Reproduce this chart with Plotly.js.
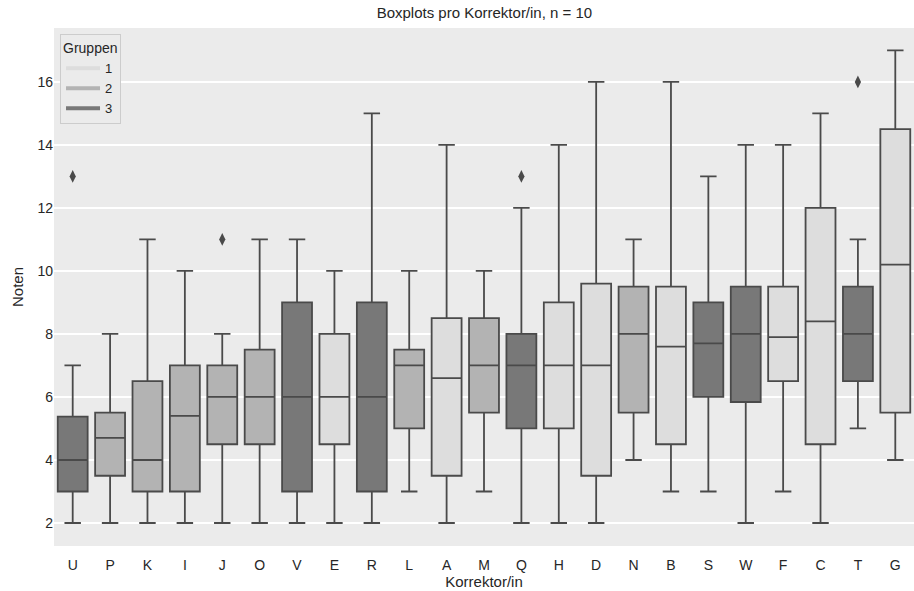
<!DOCTYPE html>
<html>
<head>
<meta charset="utf-8">
<script src="https://cdn.plot.ly/plotly-3.0.1.min.js"></script>
<style>html,body{margin:0;padding:0;background:#fff;}#chart{width:914px;height:591px;}</style>
</head>
<body>
<div id="chart"></div>
<script>
// Data
const categories = ["U","P","K","I","J","O","V","E","R","L","A","M","Q","H","D","N","B","S","W","F","C","T","G"];
const groups     = [3,2,2,2,2,2,3,1,3,2,1,2,3,1,1,2,1,3,3,1,1,3,1];
const lowerWhisker = [2,2,2,2,2,2,2,2,2,3,2,3,2,2,2,4,3,3,2,3,2,5,4];
const q1Values     = [3,3.5,3,3,4.5,4.5,3,4.5,3,5,3.5,5.5,5,5,3.5,5.5,4.5,6,5.84,6.5,4.5,6.5,5.5];
const medians      = [4,4.7,4,5.4,6,6,6,6,6,7,6.6,7,7,7,7,8,7.6,7.7,8,7.9,8.4,8,10.2];
const q3Values     = [5.375,5.5,6.5,7,7,7.5,9,8,9,7.5,8.5,8.5,8,9,9.6,9.5,9.5,9,9.5,9.5,12,9.5,14.5];
const upperWhisker = [7,8,11,10,8,11,11,10,15,10,14,10,12,14,16,11,16,13,14,14,15,11,17];
const outlierCats  = ["U","J","Q","T"];
const outlierVals  = [13,11,13,16];
const groupNames   = ["1","2","3"];

const groupFill = {1:"#dddddd", 2:"#b3b3b3", 3:"#787878"};
const lineCol = "#4a4a4a";

const traces = [];
[1,2,3].forEach(g => {
  const idx = categories.map((c,i)=>i).filter(i => groups[i] === g);
  traces.push({
    type: "box",
    x: idx.map(i => categories[i]),
    q1: idx.map(i => q1Values[i]),
    median: idx.map(i => medians[i]),
    q3: idx.map(i => q3Values[i]),
    lowerfence: idx.map(i => lowerWhisker[i]),
    upperfence: idx.map(i => upperWhisker[i]),
    boxpoints: false,
    width: 0.8,
    whiskerwidth: 0.55,
    fillcolor: groupFill[g],
    line: {color: lineCol, width: 1.8},
    showlegend: false,
    hoverinfo: "skip"
  });
});
traces.push({
  type: "scatter", mode: "markers",
  x: outlierCats, y: outlierVals,
  marker: {symbol: "diamond-tall", size: 9, color: lineCol},
  showlegend: false, hoverinfo: "skip"
});
groupNames.forEach((name, k) => {
  traces.push({
    type: "scatter", mode: "lines",
    x: [categories[0]], y: [null],
    name: name,
    line: {color: groupFill[k+1], width: 4},
    showlegend: true
  });
});

const layout = {
  width: 914, height: 591,
  margin: {l: 54, r: 0, t: 28, b: 45},
  paper_bgcolor: "#ffffff",
  plot_bgcolor: "#ebebeb",
  font: {family: "Liberation Sans, Arial, sans-serif", size: 14, color: "#262626"},
  title: {text: "Boxplots pro Korrektor/in, n = 10", x: 0.530, xanchor: "center", y: 0.978, yanchor: "middle", font: {size: 15, color: "#262626"}},
  boxmode: "overlay",
  showlegend: true,
  legend: {
    title: {text: "Gruppen", font: {size: 14}},
    x: 0.007, y: 0.988, xanchor: "left", yanchor: "top",
    bgcolor: "#ebebeb", bordercolor: "#cccccc", borderwidth: 1,
    font: {size: 13}, itemwidth: 34, tracegroupgap: 0
  },
  xaxis: {
    type: "category",
    categoryorder: "array", categoryarray: categories,
    range: [-0.5, 22.5],
    showgrid: false, zeroline: false, showline: false,
    ticks: "", ticklabelstandoff: 9,
    tickfont: {size: 14},
    title: {text: "Korrektor/in", font: {size: 15}, standoff: 4}
  },
  yaxis: {
    range: [1.27, 17.71],
    tickvals: [2,4,6,8,10,12,14,16],
    tickfont: {size: 14},
    showgrid: true, gridcolor: "#ffffff", gridwidth: 1.5,
    zeroline: false, showline: false, ticks: "",
    title: {text: "Noten", font: {size: 15}, standoff: 10}
  }
};

Plotly.newPlot("chart", traces, layout, {displayModeBar: false, staticPlot: true});
</script>
</body>
</html>
